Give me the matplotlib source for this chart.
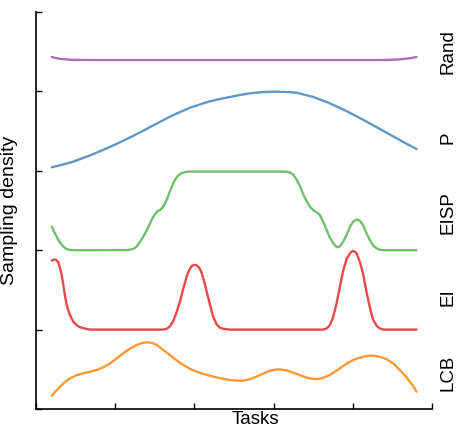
import matplotlib
matplotlib.use('Agg')
import matplotlib.pyplot as plt
import matplotlib.transforms as mtransforms

plt.rcParams['font.family'] = ['Liberation Sans', 'DejaVu Sans']

# curves, x in [0, 1], each method stacked one unit above the last
rand_x = [0.040, 0.050, 0.061, 0.077, 0.093, 0.120, 0.162, 0.50, 0.869,
          0.890, 0.907, 0.920, 0.932, 0.947, 0.961]
rand_y = [4.433, 4.420, 4.410, 4.402, 4.398, 4.396, 4.395, 4.395, 4.395,
          4.397, 4.400, 4.404, 4.410, 4.420, 4.433]

p_x = [0.040, 0.067, 0.094, 0.136, 0.179, 0.221, 0.263, 0.305, 0.347,
       0.389, 0.431, 0.460, 0.490, 0.515, 0.540, 0.568, 0.595, 0.627,
       0.658, 0.700, 0.742, 0.785, 0.827, 0.869, 0.911, 0.936, 0.961]
p_y = [3.044, 3.078, 3.115, 3.193, 3.283, 3.380, 3.485, 3.595, 3.703,
       3.795, 3.863, 3.900, 3.930, 3.955, 3.976, 3.990, 3.996, 3.994,
       3.984, 3.930, 3.850, 3.750, 3.640, 3.525, 3.409, 3.340, 3.275]

eisp_x = [0.040, 0.046, 0.052, 0.060, 0.069, 0.077, 0.086, 0.100, 0.136,
          0.230, 0.245, 0.254, 0.262, 0.271, 0.280, 0.288, 0.295, 0.301,
          0.307, 0.313, 0.320, 0.326, 0.332, 0.338, 0.345, 0.351, 0.359,
          0.368, 0.378, 0.389, 0.633, 0.642, 0.650, 0.658, 0.667, 0.675,
          0.684, 0.692, 0.700, 0.708, 0.717, 0.725, 0.734, 0.742, 0.751,
          0.756, 0.761, 0.768, 0.776, 0.785, 0.793, 0.801, 0.810, 0.818,
          0.826, 0.834, 0.843, 0.851, 0.860, 0.868, 0.877, 0.961]
eisp_y = [2.296, 2.230, 2.170, 2.100, 2.045, 2.015, 2.003, 2.000, 2.000,
          2.002, 2.015, 2.045, 2.100, 2.170, 2.255, 2.338, 2.410, 2.456,
          2.490, 2.506, 2.540, 2.590, 2.660, 2.737, 2.820, 2.889, 2.940,
          2.973, 2.986, 2.990, 2.990, 2.975, 2.950, 2.890, 2.800, 2.700,
          2.612, 2.545, 2.506, 2.480, 2.443, 2.360, 2.254, 2.160, 2.087,
          2.055, 2.037, 2.050, 2.108, 2.200, 2.296, 2.360, 2.389, 2.370,
          2.317, 2.220, 2.128, 2.060, 2.024, 2.007, 2.000, 2.000]

ei_x = [0.040, 0.046, 0.051, 0.056, 0.061, 0.065, 0.069, 0.073, 0.078,
        0.086, 0.094, 0.103, 0.111, 0.119, 0.128, 0.136, 0.320, 0.330,
        0.338, 0.347, 0.355, 0.364, 0.372, 0.381, 0.387, 0.393, 0.398,
        0.402, 0.407, 0.412, 0.417, 0.422, 0.430, 0.439, 0.447, 0.456,
        0.464, 0.473, 0.490, 0.725, 0.734, 0.742, 0.750, 0.759, 0.767,
        0.776, 0.785, 0.793, 0.797, 0.801, 0.806, 0.810, 0.818, 0.826,
        0.834, 0.843, 0.851, 0.860, 0.868, 0.877, 0.961]
ei_y = [1.869, 1.885, 1.875, 1.852, 1.770, 1.684, 1.560, 1.432, 1.300,
        1.180, 1.100, 1.054, 1.030, 1.020, 1.008, 1.000, 1.000, 1.010,
        1.040, 1.110, 1.220, 1.360, 1.520, 1.675, 1.750, 1.800, 1.812,
        1.814, 1.805, 1.780, 1.730, 1.654, 1.500, 1.320, 1.170, 1.067,
        1.025, 1.010, 1.000, 1.000, 1.015, 1.055, 1.150, 1.330, 1.530,
        1.750, 1.900, 1.960, 1.982, 1.990, 1.980, 1.955, 1.850, 1.700,
        1.490, 1.280, 1.130, 1.050, 1.015, 1.000, 1.000]

lcb_x = [0.040, 0.050, 0.061, 0.073, 0.086, 0.102, 0.119, 0.136, 0.153,
         0.170, 0.187, 0.203, 0.220, 0.237, 0.254, 0.267, 0.280, 0.293,
         0.305, 0.321, 0.338, 0.355, 0.372, 0.389, 0.406, 0.427, 0.448,
         0.469, 0.490, 0.507, 0.523, 0.540, 0.557, 0.574, 0.591, 0.603,
         0.616, 0.633, 0.650, 0.667, 0.684, 0.698, 0.713, 0.727, 0.742,
         0.764, 0.785, 0.806, 0.827, 0.840, 0.852, 0.869, 0.886, 0.903,
         0.919, 0.932, 0.944, 0.953, 0.961]
lcb_y = [0.167, 0.225, 0.281, 0.340, 0.386, 0.425, 0.449, 0.468, 0.491,
         0.525, 0.575, 0.635, 0.701, 0.760, 0.806, 0.830, 0.840, 0.832,
         0.806, 0.745, 0.680, 0.612, 0.554, 0.505, 0.470, 0.435, 0.407,
         0.383, 0.365, 0.357, 0.356, 0.375, 0.407, 0.447, 0.482, 0.496,
         0.499, 0.485, 0.457, 0.425, 0.394, 0.380, 0.378, 0.396, 0.428,
         0.500, 0.575, 0.628, 0.659, 0.670, 0.672, 0.657, 0.627, 0.570,
         0.491, 0.420, 0.344, 0.285, 0.218]

names = ['LCB', 'EI', 'EISP', 'P', 'Rand']
label_y = [0.45, 1.41, 2.47, 3.41, 4.5]
colors = ['#ff7f00', '#e41a1c', '#4daf4a', '#377eb8', '#984ea3']

fig = plt.figure(figsize=(4.63, 4.29), dpi=100)
ax = fig.add_axes([36 / 463, 20 / 429, 396 / 463, 397 / 429])

curves = [(lcb_x, lcb_y), (ei_x, ei_y), (eisp_x, eisp_y), (p_x, p_y), (rand_x, rand_y)]
for (xs, ys), c in zip(curves, colors):
    ax.plot(xs, ys, color=c, alpha=0.8, lw=1.7,
            solid_capstyle='round', solid_joinstyle='round')

trans = mtransforms.blended_transform_factory(ax.transAxes, ax.transData)
for name, y in zip(names, label_y):
    ax.text(1.04, y, name, transform=trans, rotation=90,
            ha='center', va='center', fontsize=13.5)

ax.set_xlim(0, 1)
ax.set_ylim(0, 5)
ax.set_xticks([0, 0.2, 0.4, 0.6, 0.8, 1.0])
ax.set_yticks([0, 1, 2, 3, 4, 5])
ax.set_xticklabels([])
ax.set_yticklabels([])
ax.tick_params(direction='in', length=4, width=1)
for side in ['top', 'right']:
    ax.spines[side].set_visible(False)
for side in ['left', 'bottom']:
    ax.spines[side].set_linewidth(1.2)

ax.set_ylabel('Sampling density', fontsize=14)
ax.yaxis.set_label_coords(-0.045, 0.5)
ax.set_xlabel('Tasks', fontsize=13.5, va='bottom')
ax.xaxis.set_label_coords(0.553, -0.048)

fig.savefig('out.png', dpi=100)
